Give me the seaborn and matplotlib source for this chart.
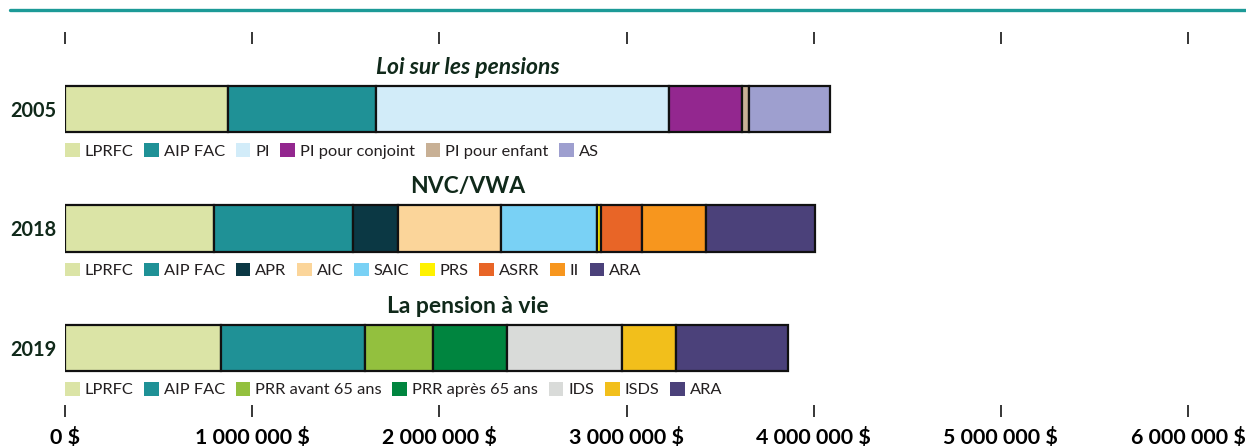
import numpy as np
import pandas as pd
import matplotlib.pyplot as plt
from matplotlib.patches import Patch
from matplotlib.lines import Line2D
import seaborn as sns

# data (dollars)
years = ['2005', '2018', '2019']
titles = ['Loi sur les pensions', 'NVC/VWA', 'La pension à vie']

labels_2005 = ['LPRFC', 'AIP FAC', 'PI', 'PI pour conjoint', 'PI pour enfant', 'AS']
values_2005 = [870000, 790000, 1565000, 390000, 37000, 433000]

labels_2018 = ['LPRFC', 'AIP FAC', 'APR', 'AIC', 'SAIC', 'PRS', 'ASRR', 'II', 'ARA']
values_2018 = [796000, 743000, 240000, 550000, 513000, 24000, 219000, 342000, 582000]

labels_2019 = ['LPRFC', 'AIP FAC', 'PRR avant 65 ans', 'PRR après 65 ans', 'IDS', 'ISDS', 'ARA']
values_2019 = [832000, 772000, 362000, 394000, 616000, 290000, 597000]

x_ticks = [0, 1000000, 2000000, 3000000, 4000000, 5000000, 6000000]
x_ticklabels = ['0 $', '1 000 000 $', '2 000 000 $', '3 000 000 $',
                '4 000 000 $', '5 000 000 $', '6 000 000 $']

colors = {
    'LPRFC': '#dbe4a6', 'AIP FAC': '#1f9196', 'PI': '#d2ecf9',
    'PI pour conjoint': '#93278f', 'PI pour enfant': '#c8b095', 'AS': '#9e9fcf',
    'APR': '#0b3844', 'AIC': '#fbd59a', 'SAIC': '#79d1f5', 'PRS': '#fff200',
    'ASRR': '#e86527', 'II': '#f7961e', 'ARA': '#4b417a',
    'PRR avant 65 ans': '#93c03e', 'PRR après 65 ans': '#00853f',
    'IDS': '#d9dbd9', 'ISDS': '#f2bf1b',
}

sns.set_style('white')
plt.rcParams['font.family'] = ['Lato', 'DejaVu Sans']

dark_green = '#10291a'
text_col = '#231f20'

fig = plt.figure(figsize=(12.46, 4.46), dpi=100)
ax = fig.add_axes([65/1246, 29/446, 1123/1246, 385/446])

groups = [(labels_2005, values_2005), (labels_2018, values_2018), (labels_2019, values_2019)]

for i, (labs, vals) in enumerate(groups):
    df = pd.DataFrame({'label': labs, 'value': vals})
    df['left'] = df['value'].cumsum() - df['value']
    ax.barh(y=[i]*len(df), width=df['value'], left=df['left'], height=0.39,
            color=[colors[l] for l in df['label']], edgecolor='#111111', linewidth=1.6)
    ax.text(2150000, i - 0.35, titles[i], ha='center', va='center', fontsize=16.5,
            fontweight='bold', color=dark_green, style='italic' if i == 0 else 'normal')
    handles = [Patch(facecolor=colors[l], edgecolor='none', label=l) for l in labs]
    leg = ax.legend(handles=handles, loc='center left', bbox_to_anchor=(0, i + 0.35),
                    bbox_transform=ax.transData, ncol=len(labs), frameon=False,
                    borderpad=0, borderaxespad=0, handlelength=0.9, handleheight=0.9,
                    handletextpad=0.3, columnspacing=0.65, fontsize=11.8,
                    labelcolor=text_col)
    if i < 2:
        ax.add_artist(leg)

ax.set_xlim(0, 6000000)
ax.set_ylim(2.578, -0.644)
ax.set_xticks(x_ticks)
ax.set_xticklabels(x_ticklabels, fontsize=15.4, fontweight='bold', color='black')
ax.set_yticks(range(len(years)))
ax.set_yticklabels(years, fontsize=14.3, fontweight='bold', color=dark_green)
ax.tick_params(axis='x', direction='in', length=8.6, width=1.1, top=True, bottom=True,
               pad=7, color='black')
ax.tick_params(axis='y', length=0, pad=6)
for s in ax.spines.values():
    s.set_visible(False)
ax.grid(False)

fig.add_artist(Line2D([10/1246, 1], [1 - 9.5/446, 1 - 9.5/446], color='#1c9a97',
                      linewidth=2.4, transform=fig.transFigure))

fig.savefig('out.png', dpi=100)
